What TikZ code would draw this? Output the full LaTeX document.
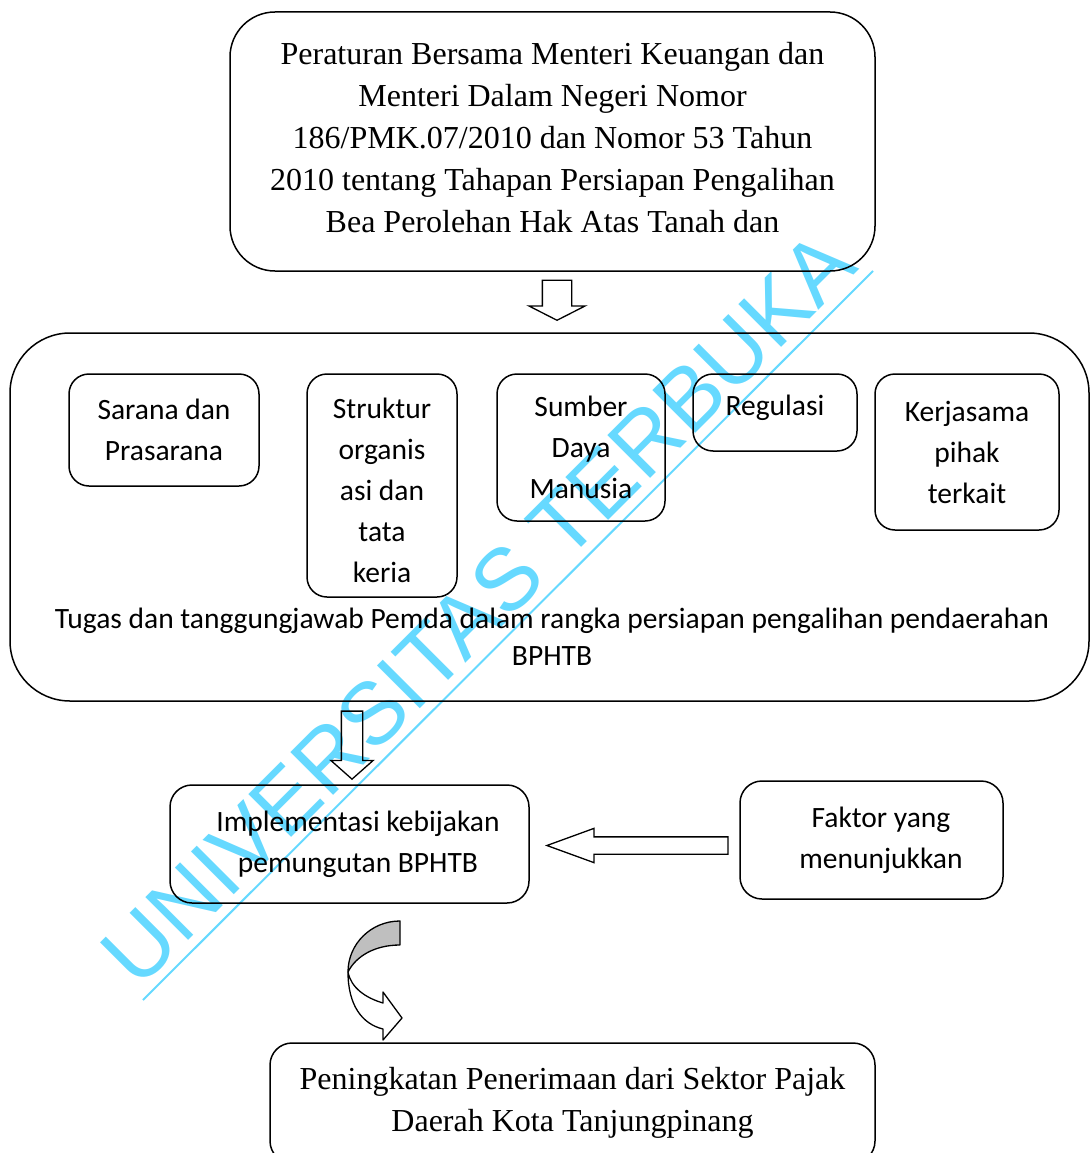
\documentclass[tikz,border=0pt]{standalone}
\usepackage{fontspec}
\setmainfont{Liberation Serif}
\newfontfamily\calibrifont{Carlito}
\newfontfamily\arialfont{Liberation Sans}
\usetikzlibrary{shapes.arrows}
\definecolor{wmcyan}{RGB}{102,217,255}

\begin{document}
\begin{tikzpicture}[x=1pt,y=-1pt,
  box/.style={draw,rounded corners=20pt,line width=1.5pt,inner sep=0pt,align=center},
  timestext/.style={font=\fontsize{32}{42}\selectfont},
  calibritext/.style={font=\calibrifont\fontsize{29.5}{41}\selectfont},
  blockarrow/.style={single arrow,draw,line width=1.3pt,inner sep=0pt,text depth=0pt,anchor=tip}]
  \useasboundingbox (0,0) rectangle (1090,1153);
  % watermark
  \node[text=wmcyan,font=\arialfont\fontsize{88}{88}\selectfont,rotate=45,anchor=base] (wm) at (499,630) {UNIVERSITAS TERBUKA};
  \draw[wmcyan,line width=2pt] (143,1000) -- (873,271);
  % boxes
  \node[box,timestext,rounded corners=45pt,minimum width=645,minimum height=259] (pera) at (552.5,141.5) {Peraturan Bersama Menteri Keuangan dan\\Menteri Dalam Negeri Nomor\\186/PMK.07/2010 dan Nomor 53 Tahun\\2010 tentang Tahapan Persiapan Pengalihan\\Bea Perolehan Hak Atas Tanah dan\rule[-9pt]{0pt}{1pt}};
  \node[box,rounded corners=60pt,minimum width=1079,minimum height=368] (tugas) at (549.5,517) {};
  \node[calibritext,align=center,font=\calibrifont\fontsize{29.5}{37}\selectfont] (tugasket) at (552,637) {Tugas dan tanggungjawab Pemda dalam rangka persiapan pengalihan pendaerahan\\BPHTB};
  \node[box,calibritext,minimum width=190,minimum height=112] (sarana) at (164,430) {Sarana dan\\Prasarana};
  \node[box,calibritext,minimum width=150,minimum height=223] (struktur) at (382,485.5) {\rule{0pt}{30pt}Struktur\\organis\\asi dan\\tata\\keria};
  \node[box,calibritext,minimum width=168,minimum height=147] (sdm) at (581,447.5) {Sumber\\Daya\\Manusia};
  \node[box,calibritext,minimum width=164,minimum height=77,text depth=14pt] (regulasi) at (775,412.5) {Regulasi};
  \node[box,calibritext,minimum width=184,minimum height=156] (kerjasama) at (967,452) {Kerjasama\\pihak\\terkait};
  \node[box,calibritext,rounded corners=22pt,minimum width=359,minimum height=118] (impl) at (349.5,844) {\hspace*{17pt}Implementasi kebijakan\\\hspace*{17pt}pemungutan BPHTB};
  \node[box,calibritext,rounded corners=22pt,minimum width=263,minimum height=118] (faktor) at (871.5,840) {\hspace*{19pt}Faktor yang\\\hspace*{19pt}menunjukkan};
  \node[box,timestext,rounded corners=22pt,minimum width=605,minimum height=120] (hasil) at (572.5,1103) {Peningkatan Penerimaan dari Sektor Pajak\\Daerah Kota Tanjungpinang};
  % block arrows
  \node[blockarrow,shape border rotate=270,text width=28pt,text height=0pt,minimum height=40,single arrow head extend=13.5pt,single arrow tip angle=126] (ar1) at (557,321) {};
  \node[blockarrow,shape border rotate=270,text width=20pt,text height=0pt,minimum height=68,single arrow head extend=10.5pt,single arrow tip angle=97] (ar2) at (352,780) {};
  \node[blockarrow,shape border rotate=180,text width=0pt,text height=16pt,minimum height=181,single arrow head extend=8.5pt,single arrow tip angle=40] (ar3) at (545,845.5) {};
  % curved arrow
  \filldraw[fill=black!25,line width=1.3pt,line join=round] (400,921) .. controls (371,921) and (348,944) .. (348,972) .. controls (356,956) and (375,945) .. (400,945) -- cycle;
  \filldraw[fill=white,line width=1.3pt,line join=round] (348,972) .. controls (348,1005) and (362,1024) .. (383,1029) -- (383,1040) -- (402,1018) -- (383,992) -- (383,1003) .. controls (366,998) and (351,988) .. (348,972) -- cycle;
\end{tikzpicture}
\end{document}
